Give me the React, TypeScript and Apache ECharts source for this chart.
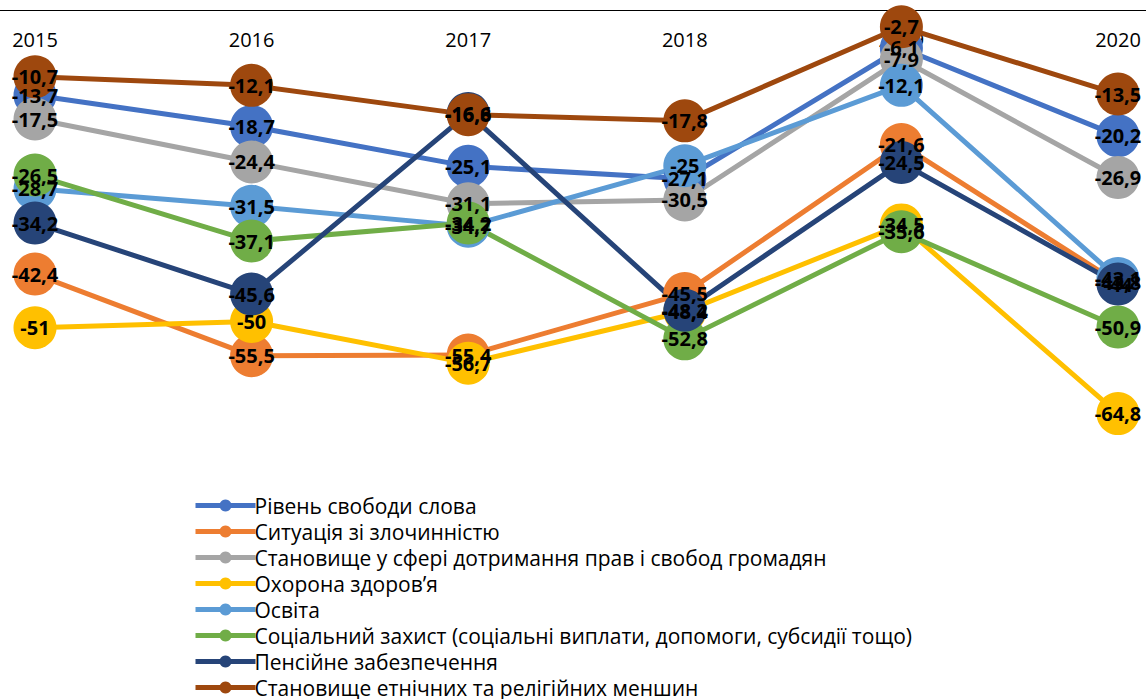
import React, { useEffect, useRef } from "react";
import * as echarts from "echarts";

const years = ["2015", "2016", "2017", "2018", "2019", "2020"];
const seriesNames = [
  "Рівень свободи слова",
  "Ситуація зі злочинністю",
  "Становище у сфері дотримання прав і свобод громадян",
  "Охорона здоров’я",
  "Освіта",
  "Соціальний захист (соціальні виплати, допомоги, субсидії тощо)",
  "Пенсійне забезпечення",
  "Становище етнічних та релігійних меншин",
];
const freedomOfSpeech = [-13.7, -18.7, -25.1, -27.1, -6.1, -20.2];
const crime = [-42.4, -55.5, -55.4, -45.5, -21.6, -43.8];
const rights = [-17.5, -24.4, -31.1, -30.5, -7.9, -26.9];
const health = [-51, -50, -56.7, -48.4, -34.5, -64.8];
const education = [-28.7, -31.5, -34.7, -25, -12.1, -43.1];
const socialProtection = [-26.5, -37.1, -34.2, -52.8, -35.6, -50.9];
const pensions = [-34.2, -45.6, -16.6, -48.2, -24.5, -44.0];
const minorities = [-10.7, -12.1, -16.8, -17.8, -2.7, -13.5];

const seriesData = [
  freedomOfSpeech,
  crime,
  rights,
  health,
  education,
  socialProtection,
  pensions,
  minorities,
];
const colors = [
  "#4472C4",
  "#ED7D31",
  "#A5A5A5",
  "#FFC000",
  "#5B9BD5",
  "#70AD47",
  "#264478",
  "#9E480E",
];

export default function App() {
  const ref = useRef<HTMLDivElement>(null);
  useEffect(() => {
    if (!ref.current) return;
    const chart = echarts.init(ref.current, null, { renderer: "svg" });
    chart.setOption({
      animation: false,
      color: colors,
      grid: { left: 35, right: 28, top: 10, height: 436, containLabel: false },
      xAxis: {
        type: "category",
        data: years,
        position: "top",
        boundaryGap: false,
        axisLine: { show: false },
        axisTick: { show: false },
        splitLine: { show: false },
        axisLabel: {
          inside: true,
          margin: 19,
          color: "#000",
          fontFamily: "Open Sans",
          fontSize: 20,
        },
      },
      yAxis: {
        type: "value",
        min: -70,
        max: 0,
        show: false,
        splitLine: { show: false },
      },
      legend: {
        orient: "vertical",
        left: 193,
        top: 495,
        padding: 0,
        itemWidth: 60,
        itemHeight: 15,
        itemGap: 5,
        lineStyle: { width: 5 },
        textStyle: {
          color: "#000",
          fontFamily: "Open Sans",
          fontSize: 21,
          lineHeight: 20,
          padding: [0, 0, 0, -6],
        },
        data: seriesNames,
      },
      graphic: [
        {
          type: "line",
          shape: { x1: 0, y1: 10.5, x2: 1146, y2: 10.5 },
          style: { stroke: "#000", lineWidth: 1 },
          z: 0,
        },
      ],
      series: seriesNames.map((name, i) => ({
        name,
        type: "line",
        data: seriesData[i],
        symbol: "circle",
        symbolSize: 43,
        lineStyle: { width: 5, color: colors[i] },
        itemStyle: { color: colors[i] },
        label: {
          show: true,
          position: "inside",
          color: "#000",
          fontFamily: "Open Sans",
          fontWeight: "bold",
          fontSize: 20,
          formatter: (p: any) => String(p.value).replace(".", ","),
        },
        emphasis: { disabled: true },
      })),
    });
    return () => chart.dispose();
  }, []);
  return (
    <div
      style={{
        position: "absolute",
        left: 0,
        top: 0,
        width: 1146,
        height: 699,
        overflow: "hidden",
      }}
    >
      <div ref={ref} style={{ width: 1146, height: 760 }} />
    </div>
  );
}
